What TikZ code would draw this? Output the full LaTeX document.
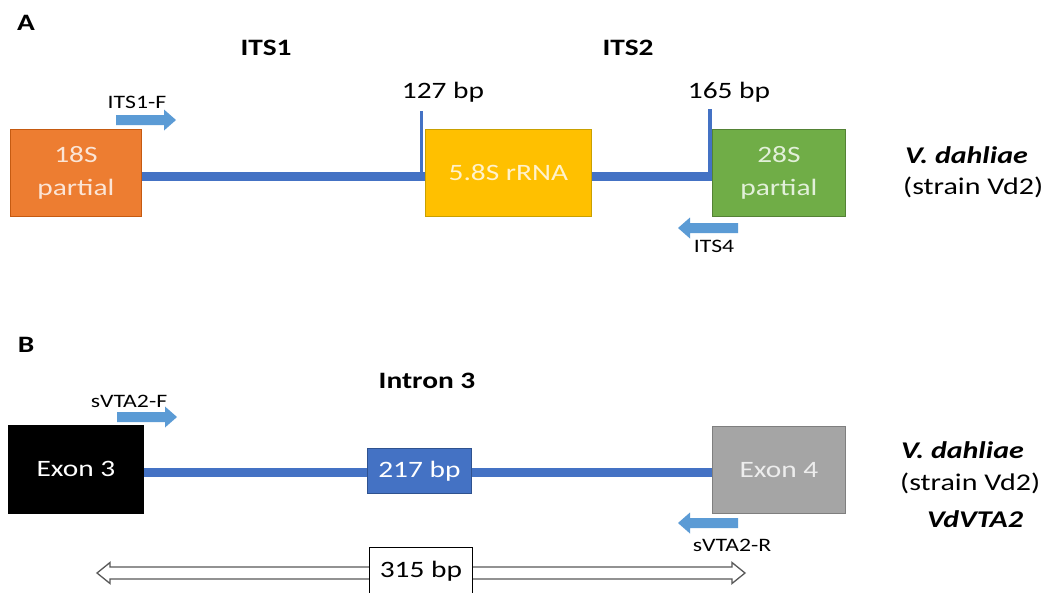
\documentclass[tikz,border=0pt]{standalone}
\usepackage{fontspec}
\setmainfont{Carlito}[FakeStretch=1.25]
\usetikzlibrary{calc}
\definecolor{bline}{HTML}{4472C4}
\definecolor{primerc}{HTML}{5B9BD5}
\definecolor{c18}{HTML}{ED7D31}
\definecolor{c18d}{HTML}{C55A11}
\definecolor{c18t}{HTML}{FBE5D6}
\definecolor{c58}{HTML}{FFC000}
\definecolor{c58d}{HTML}{C9A000}
\definecolor{c58t}{HTML}{FFF2CC}
\definecolor{c28}{HTML}{70AD47}
\definecolor{c28d}{HTML}{548235}
\definecolor{c28t}{HTML}{E2F0D9}
\definecolor{cgr}{HTML}{A5A5A5}
\definecolor{cgrd}{HTML}{7F7F7F}
\definecolor{cbld}{HTML}{2F528F}
\definecolor{hollowc}{HTML}{595959}
\newcommand\fbig{\fontsize{23.5}{33}\selectfont}
\newcommand\fspec{\fontsize{24}{32}\selectfont}
\newcommand\fsmall{\fontsize{19}{24}\selectfont}
\tikzset{
  gbox/.style={draw, line width=0.8pt, inner sep=0pt, align=center, anchor=north west, font=\fbig},
  lbl/.style={inner sep=0pt, anchor=base, font=\fbig},
  title/.style={inner sep=0pt, anchor=base, font=\fbig\bfseries},
  plbl/.style={inner sep=0pt, anchor=base, font=\fsmall},
  spec/.style={inner sep=0pt, anchor=base west, font=\fspec},
  gline/.style={bline, line width=9pt},
  tickline/.style={bline, line width=3.5pt},
  pics/primer/.style={code={
    \fill[primerc] (0,-5) -- (48,-5) -- (48,-10.5) -- (60,0) -- (48,10.5) -- (48,5) -- (0,5) -- cycle;}},
}
\begin{document}
\begin{tikzpicture}[x=1pt,y=-1pt]
\useasboundingbox (0,0) rectangle (1047,592);
\fill[white] (0,0) rectangle (1047,592);

% ---------- Panel A ----------
\node[title] (lA) at (26,30) {A};
\node[title] (its1) at (266,55) {ITS1};
\node[title] (its2) at (628,55) {ITS2};

\node[gbox, fill=c18, draw=c18d, text=c18t, minimum width=131pt, minimum height=87pt] (s18) at (10,129) {18S\\partial};
\node[gbox, fill=c58, draw=c58d, text=c58t, minimum width=166pt, minimum height=87pt] (s58) at (425,129) {5.8S rRNA};
\node[gbox, fill=c28, draw=c28d, text=c28t, minimum width=133pt, minimum height=87pt] (s28) at (712,129) {28S\\partial};

\draw[gline] ([yshift=-3.5pt]s18.east) -- ([yshift=-3.5pt]s58.west);
\draw[gline] ([yshift=-3.5pt]s58.east) -- ([yshift=-3.5pt]s28.west);

\coordinate (t1top) at (421.5,111);
\coordinate (t1bot) at (421.5,180);
\coordinate (t2top) at (710,109);
\coordinate (t2bot) at (710,180);
\draw[tickline] (t1top) -- (t1bot);
\draw[tickline] (t2top) -- (t2bot);

\node[lbl] (l127) at (443,98) {127 bp};
\node[lbl] (l165) at (729,98) {165 bp};

\pic at (116,120) {primer};
\node[plbl] (its1f) at (137,108) {ITS1-F};
\pic[xscale=-1] at (738,228) {primer};
\node[plbl] (its4) at (714,252) {ITS4};

\node[spec] (spA1) at (905,163) {\bfseries\itshape V. dahliae};
\node[spec] (spA2) at (903,194) {(strain Vd2)};

% ---------- Panel B ----------
\node[title] (lB) at (26,352) {B};
\node[title] (intr) at (427,388) {Intron 3};

\node[gbox, fill=black, draw=black, text=white, minimum width=135pt, minimum height=88pt] (ex3) at (8,425) {Exon 3};
\node[gbox, fill=bline, draw=cbld, text=white, minimum width=104pt, minimum height=45pt] (i217) at (367,448) {217 bp};
\node[gbox, fill=cgr, draw=cgrd, text=white!93!black, minimum width=133pt, minimum height=87pt] (ex4) at (712,426) {Exon 4};

\draw[gline] ([yshift=-3pt]ex3.east) -- ([yshift=-3pt]ex3.east -| i217.west);
\draw[gline] ([yshift=-3pt]ex3.east -| i217.east) -- ([yshift=-3pt]ex3.east -| ex4.west);

\pic at (117,417) {primer};
\node[plbl] (svf) at (129,407) {sVTA2-F};
\pic[xscale=-1] at (738,523) {primer};
\node[plbl] (svr) at (732,551) {sVTA2-R};

\draw[hollowc, line width=1.3pt, fill=white, line join=miter]
  (97,573) -- (110,562.5) -- (110,567) -- (732,567) -- (732,562.5) -- (745,573)
  -- (732,583.5) -- (732,579) -- (110,579) -- (110,583.5) -- cycle;
\node[draw=black, line width=0.8pt, fill=white, inner sep=0pt, anchor=north west,
      minimum width=103pt, minimum height=48pt, font=\fbig] (b315) at (369,547) {\raisebox{4pt}{315 bp}};

\node[spec] (spB1) at (901,458) {\bfseries\itshape V. dahliae};
\node[spec] (spB2) at (900,490) {(strain Vd2)};
\node[lbl, font=\fspec\bfseries\itshape] (spB3) at (975,527) {VdVTA2};
\end{tikzpicture}
\end{document}
